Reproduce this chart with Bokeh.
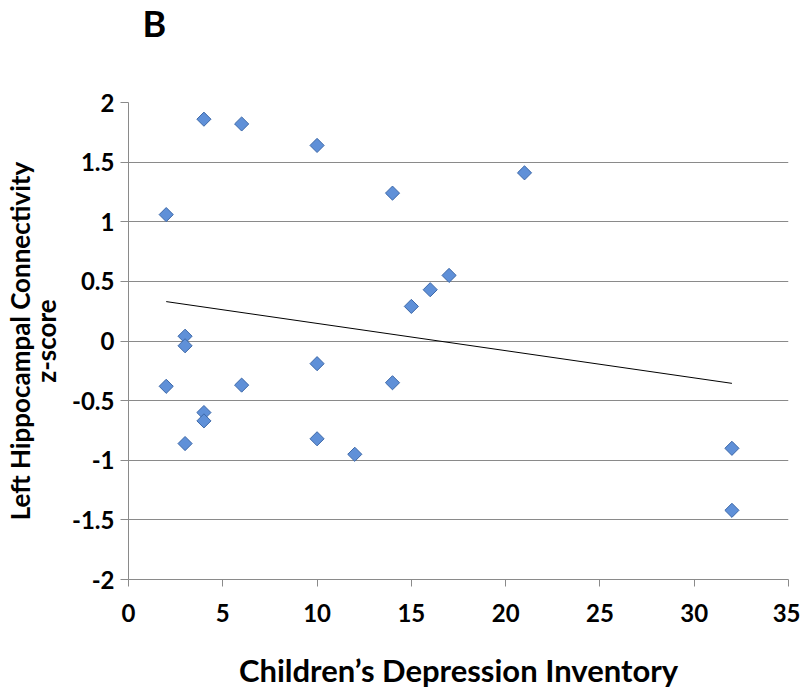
import numpy as np
from bokeh.plotting import figure
from bokeh.models import Range1d, FixedTicker, Title, ColumnDataSource
from bokeh.embed import file_html
from bokeh.resources import INLINE

# data
cdi = [2, 2, 3, 3, 3, 4, 4, 4, 6, 6, 10, 10, 10, 12, 14, 14, 15, 16, 17, 21, 32, 32]
zscore = [1.06, -0.38, 0.04, -0.04, -0.86, 1.86, -0.60, -0.67, 1.82, -0.37,
          1.64, -0.19, -0.82, -0.95, 1.24, -0.35, 0.29, 0.43, 0.55, 1.41, -0.90, -1.42]
x_ticks = [0, 5, 10, 15, 20, 25, 30, 35]
y_ticks = [-2, -1.5, -1, -0.5, 0, 0.5, 1, 1.5, 2]
y_tick_labels = ["-2", "-1.5", "-1", "-0.5", "0", "0.5", "1", "1.5", "2"]
panel_letter = "B"

FONT = "Lato"
GRAY = "#8a8a8a"

p = figure(width=800, height=691, output_backend="svg", toolbar_location=None,
           x_range=Range1d(0, 35), y_range=Range1d(-2, 2),
           min_border_left=128, min_border_right=12, min_border_top=102, min_border_bottom=111)
p.outline_line_color = None
p.background_fill_color = "white"
p.border_fill_color = "white"

# spacer between the frame and the panel letter, then the letter itself
p.add_layout(Title(text=" ", text_font_size="1px", standoff=53), "above")
p.add_layout(Title(text=panel_letter, text_font=FONT, text_font_size="36px",
                   text_font_style="bold", text_color="black", align="left",
                   offset=14, standoff=0, vertical_align="top"), "above")

# grid
p.xgrid.grid_line_color = None
p.ygrid.grid_line_color = GRAY
p.ygrid.grid_line_width = 1
p.ygrid.ticker = FixedTicker(ticks=y_ticks)

# axes
for ax in (p.xaxis[0], p.yaxis[0]):
    ax.axis_line_color = GRAY
    ax.major_tick_line_color = GRAY
    ax.major_tick_in = 0
    ax.minor_tick_line_color = None
    ax.major_label_text_font = FONT
    ax.major_label_text_font_size = "24px"
    ax.major_label_text_font_style = "bold"
    ax.major_label_text_color = "black"
    ax.axis_label_text_font = FONT
    ax.axis_label_text_font_style = "bold"
    ax.axis_label_text_color = "black"

p.xaxis.ticker = FixedTicker(ticks=x_ticks)
p.xaxis.major_tick_out = 7
p.xaxis.major_label_standoff = 17
p.xaxis.axis_label = "Children\u2019s Depression Inventory"
p.xaxis.axis_label_text_font_size = "31px"
p.xaxis.axis_label_text_line_height = 0.9
p.xaxis.axis_label_standoff = 26

p.yaxis.ticker = FixedTicker(ticks=y_ticks)
p.yaxis.major_label_overrides = {t: s for t, s in zip(y_ticks, y_tick_labels)}
p.yaxis.major_tick_out = 8
p.yaxis.major_label_standoff = 6
p.yaxis.axis_label = "Left Hippocampal Connectivity\nz-score"
p.yaxis.axis_label_text_font_size = "26px"
p.yaxis.axis_label_text_line_height = 0.8
p.yaxis.axis_label_standoff = 7

# points
src = ColumnDataSource(dict(x=cdi, y=zscore))
p.scatter("x", "y", source=src, marker="square", angle=np.pi / 4, size=10,
          fill_color="#5f90d8", line_color="#3d68a8", line_width=1)

# linear trend line
slope, intercept = np.polyfit(cdi, zscore, 1)
xs = np.array([min(cdi), max(cdi)])
p.line(xs, slope * xs + intercept, line_color="black", line_width=1)

open("out.html", "w").write(file_html(p, INLINE))
